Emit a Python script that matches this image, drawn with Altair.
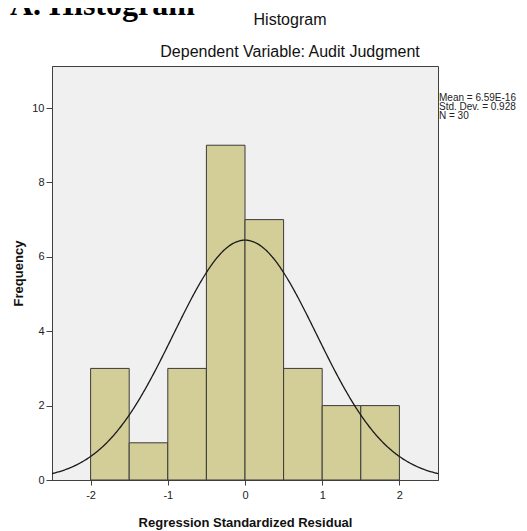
import altair as alt
import pandas as pd

# ---- data ----
bin_starts = [-2.0, -1.5, -1.0, -0.5, 0.0, 0.5, 1.0, 1.5]
bin_ends = [-1.5, -1.0, -0.5, 0.0, 0.5, 1.0, 1.5, 2.0]
counts = [3, 1, 3, 9, 7, 3, 2, 2]
x_ticks = [-2, -1, 0, 1, 2]
y_ticks = [0, 2, 4, 6, 8, 10]
stats_lines = ["Mean = 6.59E-16", "Std. Dev. = 0.928", "N = 30"]
title_text = "Histogram"
subtitle_text = "Dependent Variable: Audit Judgment"
heading_text = "A. Histogram"
mean_val = 6.59e-16
sd_val = 0.928
n_val = 30
bin_width = 0.5

bars_df = pd.DataFrame({"start": bin_starts, "end": bin_ends, "count": counts})
one = pd.DataFrame({"k": [0]})

xscale = alt.Scale(domain=[-2.5, 2.5], nice=False, zero=False)
yscale = alt.Scale(domain=[0, 11.13], nice=False, zero=False)

FONT = "Liberation Sans"

x_axis = alt.Axis(
    values=x_ticks, labelExpr="datum.value + ''", grid=False,
    tickSize=5, labelPadding=4, labelFontSize=11, labelColor="#222",
    domainColor="#404040", tickColor="#404040",
    title="Regression Standardized Residual", titleFontSize=13, titleFontWeight="bold",
    titleColor="#111", titleBaseline="alphabetic", titleY=46,
)
y_axis = alt.Axis(
    values=y_ticks, grid=False, tickSize=6, labelPadding=2, labelFontSize=11,
    labelColor="#222", domainColor="#404040", tickColor="#404040",
    title="Frequency", titleFontSize=13, titleFontWeight="bold", titleColor="#111",
    titleAngle=270, titleBaseline="middle", titleX=-34, titleY=207,
)

bars = alt.Chart(bars_df).mark_rect(
    fill="#D3CE97", stroke="#3a3a3a", strokeWidth=1
).encode(
    x=alt.X("start:Q", scale=xscale, axis=x_axis),
    x2="end:Q",
    y=alt.Y("count:Q", scale=yscale, axis=y_axis),
    y2=alt.datum(0),
)

curve = alt.Chart(alt.sequence(-2.5, 2.5001, 0.01, as_="x")).transform_calculate(
    density=f"{n_val * bin_width}/({sd_val}*sqrt(2*PI))*exp(-0.5*pow((datum.x-({mean_val}))/{sd_val},2))"
).mark_line(color="#1a1a1a", strokeWidth=1.3).encode(
    x=alt.X("x:Q", scale=xscale),
    y=alt.Y("density:Q", scale=yscale),
)

stats = alt.Chart(one).mark_text(
    text=stats_lines, align="left", baseline="alphabetic", fontSize=10, lineHeight=9,
    font=FONT, color="#222",
).encode(x=alt.value(387), y=alt.value(35))

title = alt.Chart(one).mark_text(
    text=title_text, align="center", baseline="alphabetic", fontSize=16,
    font=FONT, color="#111",
).encode(x=alt.value(238), y=alt.value(-41))

subtitle = alt.Chart(one).mark_text(
    text=subtitle_text, align="center", baseline="alphabetic", fontSize=16,
    font=FONT, color="#111",
).encode(x=alt.value(238), y=alt.value(-9))

heading = alt.Chart(one).mark_text(
    text=heading_text, align="left", baseline="alphabetic", fontSize=32,
    font="Liberation Serif", fontWeight="bold", color="#000",
).encode(x=alt.value(-42), y=alt.value(-51))

chart = alt.layer(bars, curve, stats, title, subtitle, heading).properties(
    width=386,
    height=414,
    autosize=alt.AutoSizeParams(type="none"),
    padding={"left": 44, "top": 58, "right": 81, "bottom": 51},
).configure(font=FONT).configure_view(
    fill="#F0F0F0", stroke="#404040", strokeWidth=1
)

chart.save("out.html", embed_options={"renderer": "svg", "actions": False})
